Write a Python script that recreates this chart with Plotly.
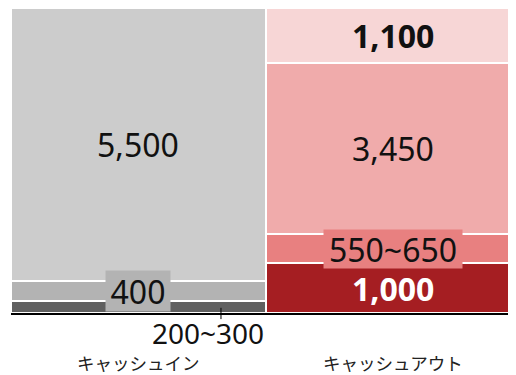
import plotly.graph_objects as go

categories = ["キャッシュイン", "キャッシュアウト"]
in_labels = ["200~300", "400", "5,500"]
in_values = [250, 400, 5500]
out_labels = ["1,000", "550~650", "3,450", "1,100"]
out_values = [1000, 600, 3450, 1100]

in_colors = ["#606060", "#b3b3b3", "#cccccc"]
out_colors = ["#a51e22", "#e88080", "#f0abab", "#f7d6d6"]

NUM_FONT = "Noto Sans, Noto Sans CJK JP, sans-serif"
JP_FONT = "Noto Sans CJK JP, sans-serif"
NUM_SIZE = 32

fig = go.Figure()
for v, c in zip(in_values, in_colors):
    fig.add_trace(go.Bar(x=[0], y=[v], marker=dict(color=c, line=dict(color="white", width=2)),
                         width=1, hoverinfo="skip"))
for v, c in zip(out_values, out_colors):
    fig.add_trace(go.Bar(x=[1], y=[v], marker=dict(color=c, line=dict(color="white", width=2)),
                         width=1, hoverinfo="skip"))

total = max(sum(in_values), sum(out_values))


def centers(vals):
    out, acc = [], 0
    for v in vals:
        out.append(acc + v / 2)
        acc += v
    return out


annotations = []
ic = centers(in_values)
# 200~300 sits below the axis
annotations.append(dict(x=0, y=0, xref="x", yref="y", text=in_labels[0], showarrow=False,
                        xshift=70, yshift=-20, yanchor="middle",
                        font=dict(family=NUM_FONT, size=28, color="#111111")))
annotations.append(dict(x=0, y=ic[1], xref="x", yref="y", text=in_labels[1], showarrow=False,
                        bgcolor=in_colors[1], borderpad=0, width=64, height=40,
                        font=dict(family=NUM_FONT, size=NUM_SIZE, color="#111111")))
annotations.append(dict(x=0, y=ic[2], xref="x", yref="y", text=in_labels[2], showarrow=False,
                        font=dict(family=NUM_FONT, size=NUM_SIZE, color="#111111")))

oc = centers(out_values)
annotations.append(dict(x=1, y=oc[0], xref="x", yref="y", text="<b>" + out_labels[0] + "</b>",
                        showarrow=False,
                        font=dict(family=NUM_FONT, size=NUM_SIZE, color="white")))
annotations.append(dict(x=1, y=oc[1], xref="x", yref="y", text=out_labels[1], showarrow=False,
                        bgcolor=out_colors[1], borderpad=0, width=138, height=38,
                        font=dict(family=NUM_FONT, size=NUM_SIZE, color="#111111")))
annotations.append(dict(x=1, y=oc[2], xref="x", yref="y", text=out_labels[2], showarrow=False,
                        font=dict(family=NUM_FONT, size=NUM_SIZE, color="#111111")))
annotations.append(dict(x=1, y=oc[3], xref="x", yref="y", text="<b>" + out_labels[3] + "</b>",
                        showarrow=False,
                        font=dict(family=NUM_FONT, size=NUM_SIZE, color="#111111")))

for i, cat in enumerate(categories):
    annotations.append(dict(x=i, y=-0.1607, xref="x", yref="paper", text=cat, showarrow=False,
                            yanchor="middle",
                            font=dict(family=JP_FONT, size=17.5, color="#222222")))

# small tick crossing the axis, pointing at the 200~300 segment
fig.add_shape(type="line", xref="x", yref="paper", x0=0.3235, x1=0.3235, y0=0.017, y1=-0.02,
              line=dict(color="black", width=1))

fig.update_layout(
    width=516, height=375,
    margin=dict(l=3, r=0, t=0, b=70),
    barmode="stack", bargap=0,
    showlegend=False,
    plot_bgcolor="white", paper_bgcolor="white",
    xaxis=dict(range=[-0.5, 1.512], showline=True, linecolor="black", linewidth=2,
               showticklabels=False, ticks="", showgrid=False, zeroline=False, fixedrange=True),
    yaxis=dict(range=[0, total], visible=False, showgrid=False, zeroline=False, fixedrange=True),
    annotations=annotations,
)

fig.write_html("out.html")
